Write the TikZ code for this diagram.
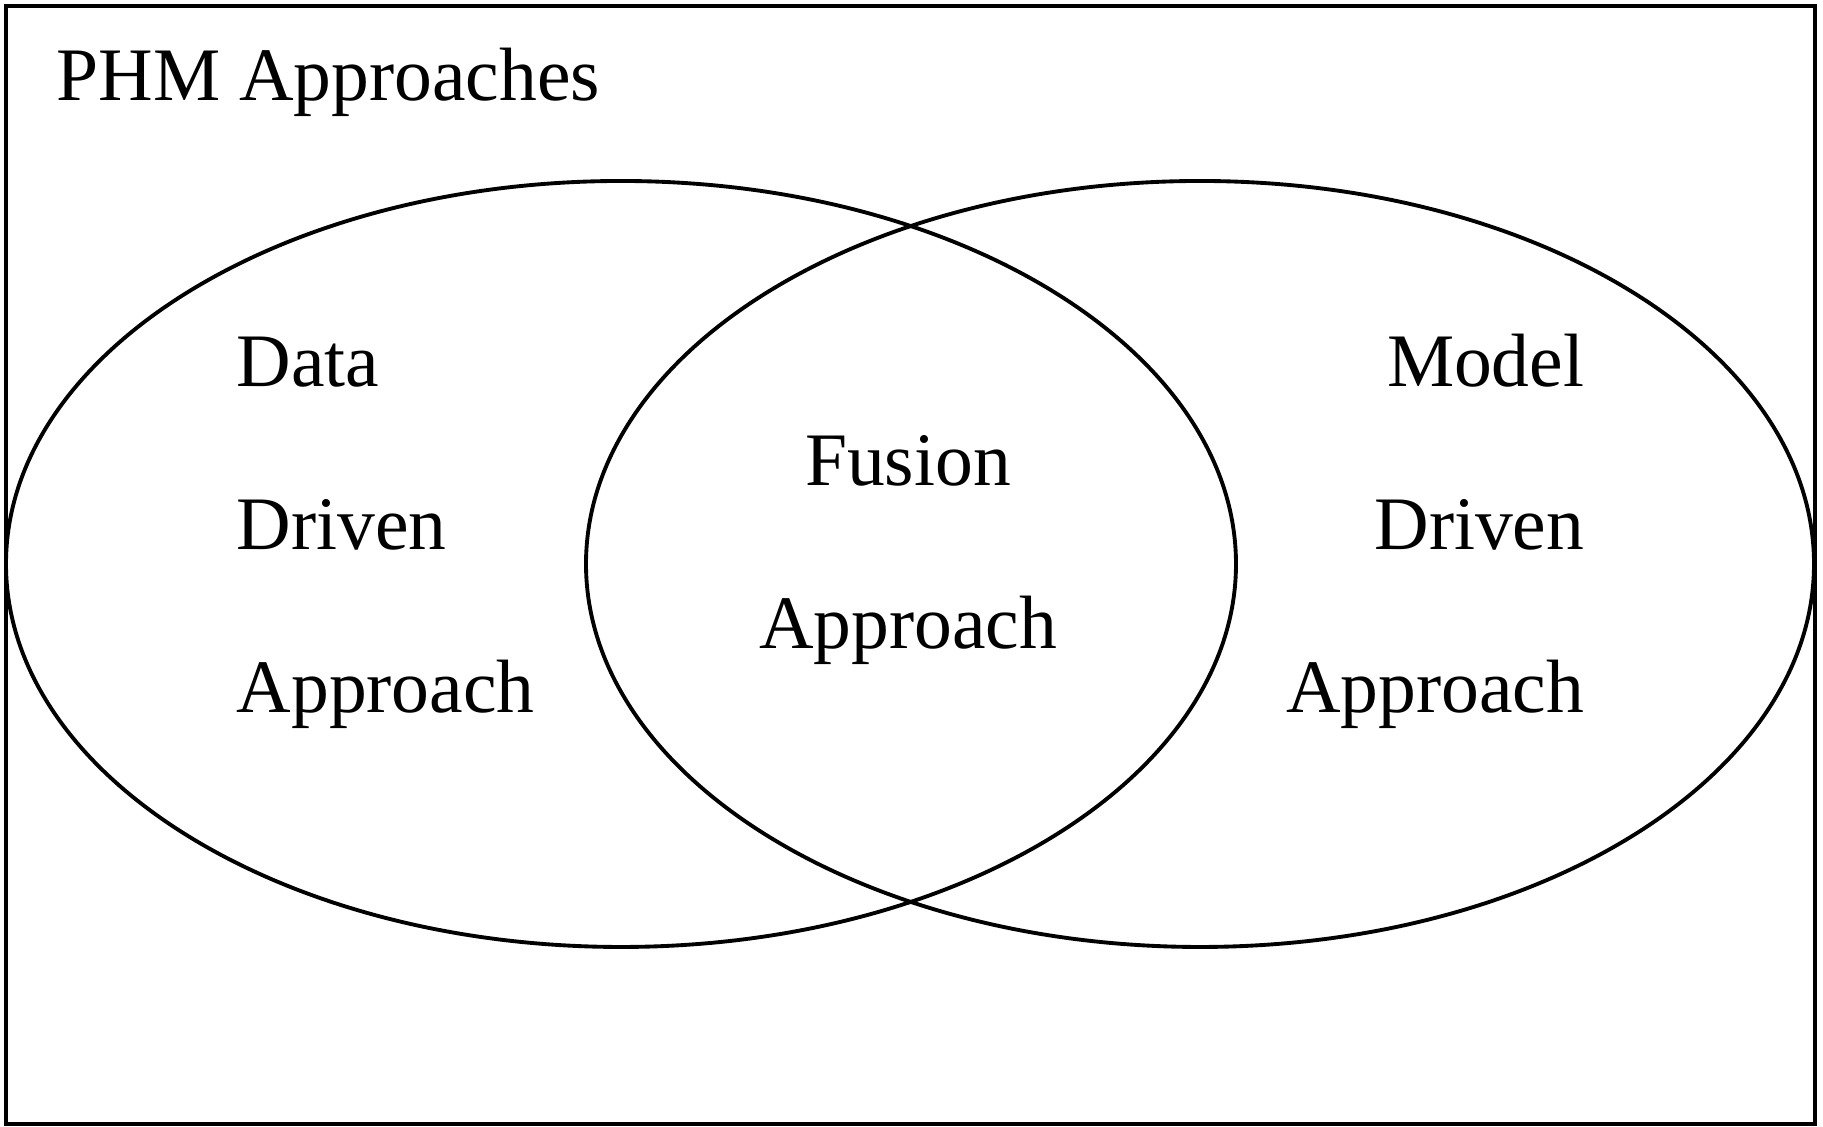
\documentclass[tikz,border=0pt]{standalone}
\usepackage{fontspec}
\setmainfont{Liberation Serif}
\usepackage{tikz}
\tikzset{lbl/.style={inner sep=0pt, font=\fontsize{21.5}{26}\selectfont}}

\begin{document}
\begin{tikzpicture}
			%%%%% START %%%%%
			\useasboundingbox (0, 0) rectangle (18.23, 11.27);
			
			\draw[line width=1.3pt] (0.06, 0.03) rectangle (18.15, 11.21);
			\node[lbl, anchor=base west] (title) at (0.56, 10.26) {PHM Approaches};
			
			\draw[line width=1.1pt] (6.21, 5.63) ellipse (6.15 and 3.83);
			\draw[line width=1.1pt] (12.00, 5.63) ellipse (6.14 and 3.83);
			
			\node[lbl, anchor=base west] (data1) at (2.36, 7.40) {Data};
			\node[lbl, anchor=base west] (data2) at (2.36, 5.77) {Driven};
			\node[lbl, anchor=base west] (data3) at (2.36, 4.14) {Approach};
			
			\node[lbl, anchor=base] (fusion1) at (9.08, 6.41) {Fusion};
			\node[lbl, anchor=base] (fusion2) at (9.08, 4.78) {Approach};
			
			\node[lbl, anchor=base east] (model1) at (15.85, 7.40) {Model};
			\node[lbl, anchor=base east] (model2) at (15.85, 5.77) {Driven};
			\node[lbl, anchor=base east] (model3) at (15.85, 4.14) {Approach};
			
			%%%%% END %%%%%
		\end{tikzpicture}
\end{document}
